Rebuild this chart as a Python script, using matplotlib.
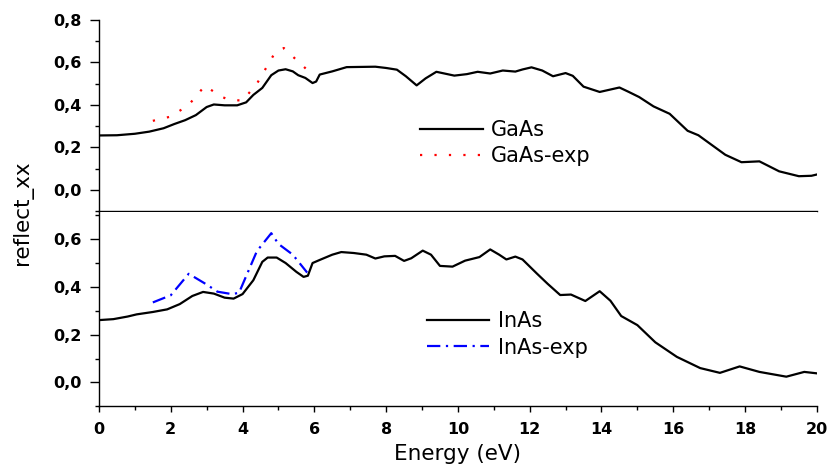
import matplotlib
matplotlib.use("Agg")
import matplotlib.pyplot as plt
from matplotlib.ticker import MultipleLocator, FuncFormatter

plt.rcParams['font.family'] = ['DejaVu Sans']

# GaAs calculated reflectivity
gaas_energy = [0.0, 0.5, 1.0, 1.4, 1.8, 2.1, 2.4, 2.7, 3.0, 3.2, 3.5, 3.85, 4.1, 4.3,
               4.55, 4.8, 5.0, 5.2, 5.4, 5.55, 5.75, 5.95, 6.05, 6.15, 6.5, 6.9, 7.7,
               8.0, 8.3, 8.55, 8.85, 9.1, 9.4, 9.9, 10.25, 10.55, 10.9, 11.25, 11.6,
               11.8, 12.05, 12.35, 12.65, 13.0, 13.2, 13.5, 13.95, 14.5, 14.75, 15.05,
               15.45, 15.9, 16.4, 16.7, 17.45, 17.9, 18.4, 18.95, 19.5, 19.85, 20.0]
gaas_refl = [0.256, 0.257, 0.264, 0.274, 0.290, 0.310, 0.328, 0.352, 0.390, 0.402, 0.398,
             0.398, 0.412, 0.447, 0.480, 0.540, 0.562, 0.568, 0.558, 0.540, 0.527, 0.503,
             0.510, 0.543, 0.558, 0.578, 0.580, 0.574, 0.566, 0.535, 0.492, 0.525, 0.556,
             0.538, 0.545, 0.556, 0.548, 0.562, 0.557, 0.567, 0.577, 0.562, 0.535, 0.550,
             0.537, 0.486, 0.461, 0.482, 0.462, 0.437, 0.393, 0.358, 0.278, 0.257, 0.165,
             0.130, 0.134, 0.087, 0.064, 0.066, 0.072]

# GaAs experimental reflectivity
gaas_exp_energy = [1.5, 2.0, 2.5, 2.95, 3.4, 3.6, 4.0, 4.4, 4.9, 5.15, 5.45, 5.8]
gaas_exp_refl = [0.325, 0.345, 0.40, 0.49, 0.44, 0.425, 0.42, 0.50, 0.645, 0.668, 0.62, 0.565]

# InAs calculated reflectivity
inas_energy = [0.0, 0.4, 0.8, 1.05, 1.5, 1.9, 2.25, 2.6, 2.9, 3.2, 3.5, 3.75, 4.0, 4.3,
               4.55, 4.7, 4.95, 5.2, 5.5, 5.7, 5.82, 5.95, 6.15, 6.5, 6.75, 7.1, 7.45,
               7.7, 7.95, 8.25, 8.5, 8.7, 9.02, 9.25, 9.5, 9.85, 10.2, 10.6, 10.9, 11.15,
               11.35, 11.6, 11.8, 12.2, 12.5, 12.85, 13.15, 13.55, 13.95, 14.25, 14.55,
               15.0, 15.5, 16.1, 16.75, 17.3, 17.85, 18.4, 19.15, 19.65, 20.0]
inas_refl = [0.261, 0.265, 0.276, 0.285, 0.295, 0.306, 0.328, 0.362, 0.379, 0.372, 0.355,
             0.351, 0.370, 0.428, 0.505, 0.523, 0.523, 0.500, 0.463, 0.442, 0.447, 0.500,
             0.513, 0.535, 0.546, 0.542, 0.535, 0.519, 0.528, 0.530, 0.509, 0.520, 0.552,
             0.535, 0.488, 0.485, 0.510, 0.525, 0.557, 0.535, 0.515, 0.527, 0.515, 0.456,
             0.413, 0.366, 0.368, 0.341, 0.382, 0.342, 0.278, 0.240, 0.168, 0.107, 0.060,
             0.040, 0.067, 0.044, 0.024, 0.044, 0.038]

# InAs experimental reflectivity
inas_exp_energy = [1.5, 2.0, 2.5, 3.0, 3.3, 3.7, 3.9, 4.4, 4.8, 5.0, 5.4, 5.8]
inas_exp_refl = [0.335, 0.365, 0.455, 0.41, 0.38, 0.37, 0.375, 0.55, 0.625, 0.58, 0.535, 0.46]

xticks = [0, 2, 4, 6, 8, 10, 12, 14, 16, 18, 20]

fig = plt.figure(figsize=(8.27, 4.71), dpi=100)
left, width = 0.1197, 0.868
ax_top = fig.add_axes([left, 0.552, width, 0.4055])
ax_bot = fig.add_axes([left, 0.1374, width, 0.4131], sharex=ax_top)

comma = FuncFormatter(lambda v, p: f"{v:.1f}".replace('.', ','))

ax_top.plot(gaas_energy, gaas_refl, color='black', lw=1.6, label='GaAs')
ax_top.plot(gaas_exp_energy, gaas_exp_refl, color='red', lw=1.6,
            linestyle=(0, (1, 5.5)), label='GaAs-exp')
ax_top.set_ylim(-0.1, 0.8)

ax_bot.plot(inas_energy, inas_refl, color='black', lw=1.6, label='InAs')
ax_bot.plot(inas_exp_energy, inas_exp_refl, color='blue', lw=1.6,
            linestyle=(0, (6, 2.5, 1, 2.5)), label='InAs-exp')
ax_bot.set_ylim(-0.1, 0.715)
ax_bot.set_xlim(0, 20)

for ax in (ax_top, ax_bot):
    ax.spines['right'].set_visible(False)
    ax.spines['top'].set_visible(False)
    for s in ('left', 'bottom'):
        ax.spines[s].set_linewidth(1.0)
    ax.yaxis.set_major_locator(MultipleLocator(0.2))
    ax.yaxis.set_minor_locator(MultipleLocator(0.1))
    ax.yaxis.set_major_formatter(comma)
    ax.tick_params(axis='y', which='major', direction='out', length=6.5, width=1.0,
                   labelsize=11.5, pad=6)
    ax.tick_params(axis='y', which='minor', direction='out', length=3, width=1.0)
    for lab in ax.get_yticklabels():
        lab.set_fontweight('bold')

ax_top.tick_params(axis='x', which='both', bottom=False, labelbottom=False)

ax_bot.set_xticks(xticks)
ax_bot.xaxis.set_minor_locator(MultipleLocator(1))
ax_bot.tick_params(axis='x', which='major', direction='out', length=4, width=1.0,
                   labelsize=11.5, pad=7)
ax_bot.tick_params(axis='x', which='minor', direction='out', length=3, width=1.0)
for lab in ax_bot.get_xticklabels():
    lab.set_fontweight('bold')

ax_bot.set_xlabel('Energy (eV)', fontsize=15.5, labelpad=5)
fig.text(0.027, 0.548, 'reflect_xx', rotation=90, fontsize=15.5,
         ha='center', va='center')

leg_kw = dict(frameon=False, fontsize=15, handlelength=3.0, handletextpad=0.4,
              labelspacing=0.3, borderaxespad=0)
ax_top.legend(loc='upper left', bbox_to_anchor=(0.436, 0.52), **leg_kw)
ax_bot.legend(loc='upper left', bbox_to_anchor=(0.445, 0.53), **leg_kw)

fig.savefig('out.png', dpi=100)
